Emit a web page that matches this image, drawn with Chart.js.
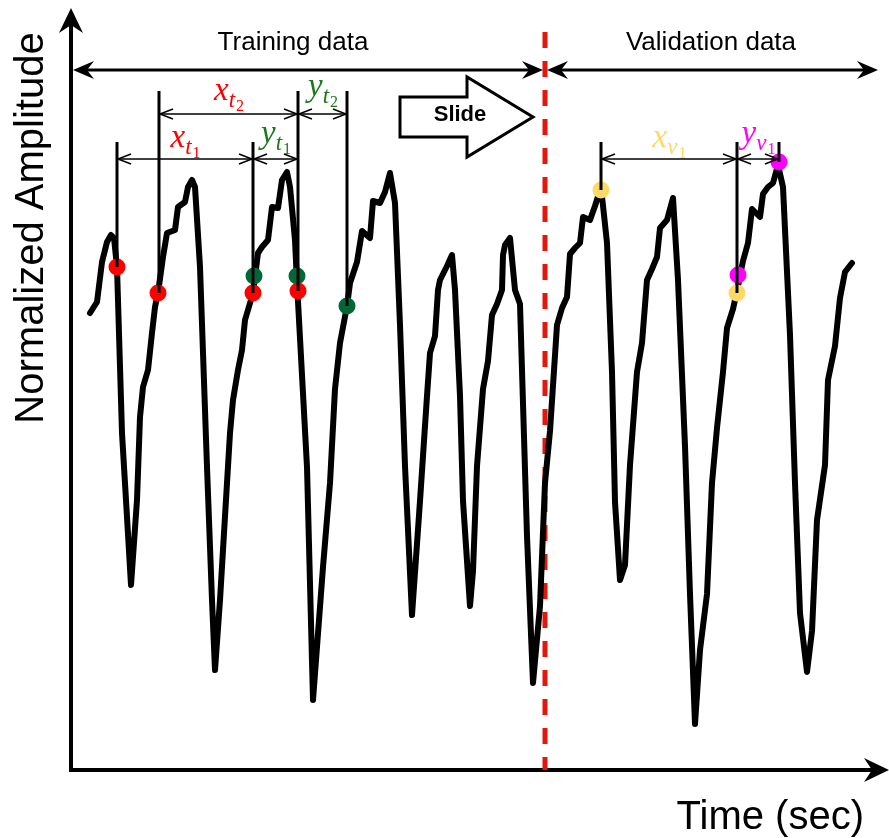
<!DOCTYPE html>
<html>
<head>
<meta charset="utf-8">
<script src="https://cdn.jsdelivr.net/npm/chart.js@4.4.1/dist/chart.umd.min.js"></script>
<style>
	html, body { margin: 0; padding: 0; background: white; }
	#wrap { position: relative; width: 889px; height: 838px; }
</style>
</head>
<body>
<div id="wrap"><canvas id="chart-1"></canvas></div>
<script>

// waveform samples (time steps, amplitude units)
var timeVals = [19,26,31,36,40,43,46,51,56,60,66,69,72,77,81,84,87,92,96,104,
	107,114,117,121,124,129,136,141,144,149,156,159,162,167,171,174,182,187,191,197,
	201,207,211,216,219,224,226,236,242,252,259,264,269,276,279,286,291,299,302,309,
	314,319,324,329,334,341,349,356,359,364,367,369,376,381,384,389,392,399,402,406,
	412,417,421,426,431,432,434,439,444,449,456,462,469,474,479,486,491,496,499,504,
	509,512,519,524,530,536,541,544,549,554,559,566,571,576,581,586,589,596,602,607,
	614,619,624,629,636,641,646,652,656,662,666,672,677,681,689,692,697,702,707,712,
	719,724,729,736,741,746,754,757,764,769,774,781];
var ampVals = [457,468,508,528,535,532,503,337,253,185,270,353,383,400,437,463,477,513,537,540,
	563,568,583,590,583,503,303,170,100,170,287,337,370,400,420,450,477,517,523,530,
	563,562,590,598,583,530,487,303,70,203,287,381,427,464,487,508,539,532,569,567,
	578,597,567,445,304,155,269,374,417,434,480,490,504,515,480,374,269,164,199,304,
	381,409,455,466,480,515,525,532,480,466,234,87,164,287,339,445,462,473,516,522,
	527,553,550,564,583,527,398,268,190,205,305,398,427,490,501,513,542,550,572,490,
	324,176,46,120,176,287,342,398,442,461,479,509,527,561,553,576,583,587,605,583,
	435,287,157,98,139,250,305,390,424,472,498,507];

// picked samples
var redT = [46, 87, 182, 227];
var redA = [503, 477, 477, 479];
var greenT = [183, 226, 276];
var greenA = [494, 494, 464];
var yellowT = [530, 666];
var yellowA = [580, 477];
var magentaT = [708, 667];
var magentaA = [608, 495];

// window boundaries
var markerT = [46, 88, 182, 227, 276, 530, 666, 708];
var markerTop = [628, 679, 628, 679, 679, 628, 628, 628];
var markerEnd = [503, 477, 477, 479, 464, 580, 477, 608];

// window spans and their labels
var spanFrom = [46, 182, 88, 227, 530, 666];
var spanTo = [182, 227, 227, 276, 666, 708];
var spanLevel = [611, 611, 656, 656, 611, 611];
var spanMain = ['x', 'y', 'x', 'y', 'x', 'y'];
var spanSub = ['t', 't', 't', 't', 'v', 'v'];
var spanIdx = ['1', '1', '2', '2', '1', '1'];

var splitT = 474;
var timeMax = 818;
var ampMax = 762;

var redCol = '#ff0000';
var greenDot = '#006837';
var greenTxt = '#1a7a1a';
var yellowCol = '#ffd966';
var magentaCol = '#ff00ff';
var labelCols = [redCol, greenTxt, redCol, greenTxt, yellowCol, magentaCol];

function toPoints(ts, as) {
	var pts = [];
	for (var i = 0; i < ts.length; i++) {
		pts.push({x: ts[i], y: as[i]});
	}
	return pts;
}

function filledHead(ctx, x, y, angle, len, half, notch) {
	ctx.save();
	ctx.translate(x, y);
	ctx.rotate(angle);
	ctx.beginPath();
	ctx.moveTo(0, 0);
	ctx.lineTo(-len, -half);
	ctx.lineTo(-notch, 0);
	ctx.lineTo(-len, half);
	ctx.closePath();
	ctx.fill();
	ctx.restore();
}

function openHead(ctx, x, y, angle, len, half) {
	ctx.save();
	ctx.translate(x, y);
	ctx.rotate(angle);
	ctx.beginPath();
	ctx.moveTo(-len, -half);
	ctx.lineTo(0, 0);
	ctx.lineTo(-len, half);
	ctx.stroke();
	ctx.restore();
}

function mathLabel(ctx, cx, baseY, main, sub, idx, color) {
	var f1 = 'italic 33px "Liberation Serif"';
	var f2 = 'italic 23px "Liberation Serif"';
	var f3 = '16px "Liberation Serif"';
	ctx.font = f1; var w1 = ctx.measureText(main).width;
	ctx.font = f2; var w2 = ctx.measureText(sub).width;
	ctx.font = f3; var w3 = ctx.measureText(idx).width;
	var x = cx - (w1 + w2 + w3) / 2;
	ctx.fillStyle = color;
	ctx.textAlign = 'left';
	ctx.textBaseline = 'alphabetic';
	ctx.font = f1; ctx.fillText(main, x, baseY);
	ctx.font = f2; ctx.fillText(sub, x + w1, baseY + 7);
	ctx.font = f3; ctx.fillText(idx, x + w1 + w2 + 1, baseY + 11);
}

var diagramPlugin = {
	id: 'diagram',
	beforeDatasetsDraw: function(chart) {
		var ctx = chart.ctx;
		var area = chart.chartArea;
		var xs = chart.scales.x;
		ctx.save();

		// axes with arrow tips
		ctx.strokeStyle = '#000';
		ctx.fillStyle = '#000';
		ctx.lineWidth = 4;
		ctx.beginPath();
		ctx.moveTo(area.left, area.top + 15);
		ctx.lineTo(area.left, area.bottom);
		ctx.lineTo(area.right - 15, area.bottom);
		ctx.stroke();
		filledHead(ctx, area.left, area.top, -Math.PI / 2, 25, 12, 17);
		filledHead(ctx, area.right, area.bottom, 0, 25, 12, 17);

		// train / validation split
		var sx = xs.getPixelForValue(splitT);
		ctx.strokeStyle = '#e3170a';
		ctx.lineWidth = 5;
		ctx.setLineDash([16, 13]);
		ctx.beginPath();
		ctx.moveTo(sx, 32);
		ctx.lineTo(sx, area.bottom);
		ctx.stroke();
		ctx.setLineDash([]);

		// axis titles
		ctx.fillStyle = '#000';
		ctx.font = '40px "Liberation Sans"';
		ctx.textAlign = 'right';
		ctx.textBaseline = 'alphabetic';
		ctx.fillText('Time (sec)', 864, 829);
		ctx.save();
		ctx.translate(43, 228);
		ctx.rotate(-Math.PI / 2);
		ctx.textAlign = 'center';
		ctx.fillText('Normalized Amplitude', 0, 0);
		ctx.restore();

		ctx.restore();
	},
	afterDatasetsDraw: function(chart) {
		var ctx = chart.ctx;
		var xs = chart.scales.x;
		var ys = chart.scales.y;
		ctx.save();
		ctx.strokeStyle = '#000';
		ctx.fillStyle = '#000';

		// vertical window markers
		ctx.lineWidth = 3;
		for (var i = 0; i < markerT.length; i++) {
			var mx = xs.getPixelForValue(markerT[i]);
			ctx.beginPath();
			ctx.moveTo(mx, ys.getPixelForValue(markerTop[i]));
			ctx.lineTo(mx, ys.getPixelForValue(markerEnd[i]));
			ctx.stroke();
		}

		// dimension arrows + labels
		ctx.lineWidth = 1.5;
		for (var j = 0; j < spanFrom.length; j++) {
			var x1 = xs.getPixelForValue(spanFrom[j]);
			var x2 = xs.getPixelForValue(spanTo[j]);
			var ly = ys.getPixelForValue(spanLevel[j]);
			ctx.strokeStyle = '#000';
			ctx.beginPath();
			ctx.moveTo(x1, ly);
			ctx.lineTo(x2, ly);
			ctx.stroke();
			openHead(ctx, x1 + 1, ly, Math.PI, 13, 5);
			openHead(ctx, x2 - 1, ly, 0, 13, 5);
			var off = spanMain[j] == 'y' ? 16 : 12;
			if (spanLevel[j] > 640) off += 2;
			mathLabel(ctx, (x1 + x2) / 2, ly - off, spanMain[j], spanSub[j], spanIdx[j], labelCols[j]);
		}

		// training / validation ranges
		var ay = ys.getPixelForValue(700);
		var tA = xs.getPixelForValue(2);
		var tB = xs.getPixelForValue(splitT - 2);
		var vA = xs.getPixelForValue(splitT + 2);
		var vB = xs.getPixelForValue(807);
		ctx.strokeStyle = '#000';
		ctx.fillStyle = '#000';
		ctx.lineWidth = 3;
		ctx.beginPath();
		ctx.moveTo(tA + 10, ay); ctx.lineTo(tB - 10, ay);
		ctx.moveTo(vA + 10, ay); ctx.lineTo(vB - 10, ay);
		ctx.stroke();
		filledHead(ctx, tA, ay, Math.PI, 21, 9, 14);
		filledHead(ctx, tB, ay, 0, 21, 9, 14);
		filledHead(ctx, vA, ay, Math.PI, 21, 9, 14);
		filledHead(ctx, vB, ay, 0, 21, 9, 14);

		ctx.font = '26px "Liberation Sans"';
		ctx.textAlign = 'center';
		ctx.textBaseline = 'alphabetic';
		ctx.fillText('Training data', xs.getPixelForValue(222), 50);
		ctx.fillText('Validation data', xs.getPixelForValue(640), 50);

		// slide block arrow
		var bx0 = xs.getPixelForValue(329), bx1 = xs.getPixelForValue(396), bx2 = xs.getPixelForValue(462);
		var by0 = ys.getPixelForValue(693), by1 = ys.getPixelForValue(673);
		var by2 = ys.getPixelForValue(653), by3 = ys.getPixelForValue(633), by4 = ys.getPixelForValue(613);
		ctx.beginPath();
		ctx.moveTo(bx0, by1);
		ctx.lineTo(bx1, by1);
		ctx.lineTo(bx1, by0);
		ctx.lineTo(bx2, by2);
		ctx.lineTo(bx1, by4);
		ctx.lineTo(bx1, by3);
		ctx.lineTo(bx0, by3);
		ctx.closePath();
		ctx.fillStyle = '#fff';
		ctx.fill();
		ctx.lineWidth = 3;
		ctx.lineJoin = 'miter';
		ctx.stroke();
		ctx.fillStyle = '#000';
		ctx.font = 'bold 22px "Liberation Sans"';
		ctx.textBaseline = 'middle';
		ctx.fillText('Slide', xs.getPixelForValue(389), by2 - 2);

		ctx.restore();
	}
};

function dotSet(ts, as, col) {
	return {
		data: toPoints(ts, as),
		showLine: false,
		pointRadius: 8.5,
		pointHoverRadius: 8.5,
		pointBackgroundColor: col,
		pointBorderWidth: 0
	};
}

var data1 = {
	datasets: [
		dotSet(redT, redA, redCol),
		dotSet(greenT, greenA, greenDot),
		dotSet(yellowT, yellowA, yellowCol),
		dotSet(magentaT, magentaA, magentaCol),
		{
			data: toPoints(timeVals, ampVals),
			showLine: true,
			borderColor: '#000',
			borderWidth: 6,
			borderJoinStyle: 'round',
			borderCapStyle: 'round',
			pointRadius: 0,
			tension: 0
		}
	]
};

var options1 = {
	responsive: true,
	maintainAspectRatio: false,
	animation: false,
	layout: {
		autoPadding: false,
		padding: { left: 71, right: 0, top: 8, bottom: 68 }
	},
	plugins: {
		legend: { display: false },
		tooltip: { enabled: false }
	},
	scales: {
		x: { type: 'linear', display: false, min: 0, max: timeMax },
		y: { type: 'linear', display: false, min: 0, max: ampMax }
	}
};

var graph = new Chart('chart-1', {
	type: 'scatter',
	data: data1,
	options: options1,
	plugins: [diagramPlugin]
});
</script>
</body>
</html>
